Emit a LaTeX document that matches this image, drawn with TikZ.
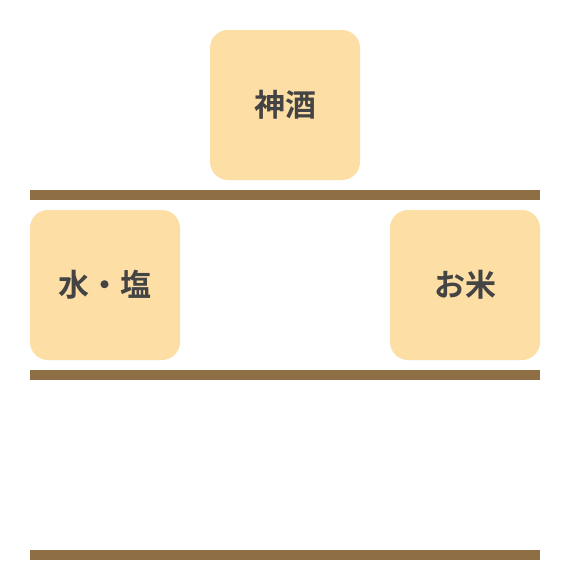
\documentclass[tikz,border=0pt]{standalone}
\usepackage{fontspec}
\newfontfamily\cjk{Noto Sans CJK JP}[BoldFont={* Bold}]
\usepackage{tikz}
\usetikzlibrary{positioning}
\definecolor{boxfill}{HTML}{FDDFA6}
\definecolor{shelfbrown}{HTML}{8D6E45}
\definecolor{labeltext}{HTML}{444444}
\tikzset{
	offering/.style={fill=boxfill,rounded corners=18pt,minimum width=150pt,minimum height=150pt,inner sep=0pt,
		font=\cjk\bfseries\fontsize{31}{36}\selectfont,text=labeltext},
	shelf/.style={fill=shelfbrown}
}
\begin{document}
\begin{tikzpicture}[x=1pt,y=-1pt]
	\def\largeur{570}
	\def\hauteur{570}
\useasboundingbox (0,0) rectangle (\largeur,\hauteur); % page size
\fill[white] (0,0) rectangle (\largeur,\hauteur);

%Etageres
\fill[shelf] (30,190) rectangle (540,200);
\fill[shelf] (30,370) rectangle (540,380);
\fill[shelf] (30,550) rectangle (540,560);

%Offrandes
\node[offering] (miki) at (285,105) {神酒};
\node[offering] (mizushio) at (105,285) {水・塩};
\node[offering] (okome) at (465,285) {お米};

\end{tikzpicture}
\end{document}
